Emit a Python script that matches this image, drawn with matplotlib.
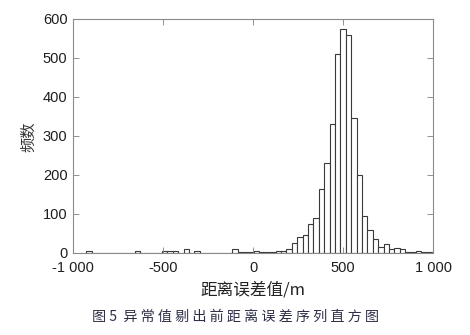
import matplotlib
matplotlib.use("Agg")
import matplotlib.pyplot as plt
import numpy as np

plt.rcParams['font.family'] = ['Liberation Sans', 'Noto Sans CJK SC', 'DejaVu Sans']

# histogram bins (left edges, width 30) and counts
bin_start = -925
bin_width = 30
counts = [5, 0, 0, 0, 0, 0, 0, 0, 0, 5,
          0, 0, 0, 0, 5, 5, 5, 0, 10, 0,
          5, 0, 0, 0, 0, 0, 0, 10, 2, 2,
          2, 5, 3, 3, 3, 5, 6, 10, 25, 41,
          47, 75, 91, 163, 232, 332, 511, 575, 559, 346,
          200, 95, 59, 35, 16, 23, 10, 13, 10, 2,
          2, 5, 2, 2]
xticks = [-1000, -500, 0, 500, 1000]
xticklabels = ['-1 000', '-500', '0', '500', '1 000']
yticks = [0, 100, 200, 300, 400, 500, 600]

edges = bin_start + bin_width * np.arange(len(counts) + 1)

fig = plt.figure(figsize=(4.70, 3.35), dpi=100)
ax = fig.add_axes([0.1553, 0.2448, 0.766, 0.6985])

ax.bar(edges[:-1], counts, width=bin_width, align='edge',
       facecolor='white', edgecolor='#3a3a3a', linewidth=0.8)

ax.set_xlim(-1000, 1000)
ax.set_ylim(0, 600)
ax.set_xticks(xticks)
ax.set_xticklabels(xticklabels)
ax.set_yticks(yticks)
ax.tick_params(direction='in', length=4, width=0.6, colors='#808080',
               labelcolor='#1e1e1e', labelsize=10.5, top=True, right=True)
ax.tick_params(axis='x', pad=6)
ax.tick_params(axis='y', pad=4)
for s in ax.spines.values():
    s.set_color('#8a8a8a')
    s.set_linewidth(0.8)

fig.text(0.538, 0.134, '距离误差值/m', ha='center', va='center', fontsize=12,
         color='#222222', family=['Noto Sans CJK SC', 'DejaVu Sans'])
fig.text(0.061, 0.591, '频数', ha='center', va='center', rotation=90, fontsize=11,
         color='#333333', family=['Noto Sans CJK SC', 'DejaVu Sans'])
fig.text(0.50, 0.054, '图 5  异 常 值 剔 出 前 距 离 误 差 序 列 直 方 图',
         ha='center', va='center', fontsize=10.2, color='#2e3048',
         family=['Noto Sans CJK SC', 'DejaVu Sans'])

fig.savefig('out.png', dpi=100)
